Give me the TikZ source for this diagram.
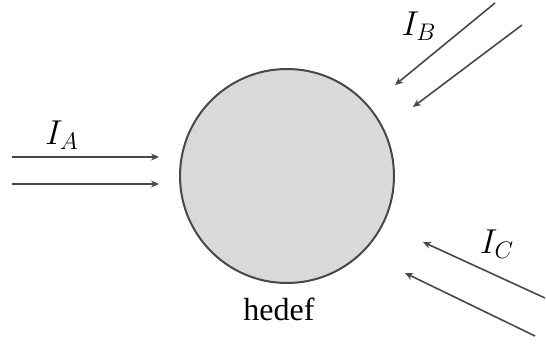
\documentclass[tikz,border=0pt]{standalone}
\usepackage{fontspec}
\setmainfont{Liberation Serif}
\usepackage{amsmath}
\usepackage{tikz}
\usetikzlibrary{arrows.meta}
\definecolor{beamgray}{HTML}{484848}
\definecolor{targetfill}{HTML}{D9D9D9}

\begin{document}
\begin{tikzpicture}[x=0.5pt,y=0.5pt,
  beam/.style={draw=beamgray,line width=0.8pt,-{Stealth[length=4pt,width=3.5pt]}},
  beamlabel/.style={font=\fontsize{17}{20}\selectfont}]
  \useasboundingbox (0,0) rectangle (546,343);
  \node[circle,draw=beamgray,line width=1pt,fill=targetfill,inner sep=0pt,minimum size=107pt] (target) at (287,167) {};
  \node[font=\fontsize{16}{19}\selectfont] (targetlabel) at (279,34) {hedef};
  % beam A
  \coordinate (a1s) at (12,186);  \coordinate (a1e) at (159,186);
  \coordinate (a2s) at (12,159);  \coordinate (a2e) at (159,159);
  \draw[beam] (a1s) -- (a1e);
  \draw[beam] (a2s) -- (a2e);
  \node[beamlabel] (labelA) at (62,208) {$I_A$};
  % beam B
  \coordinate (b1s) at (495,340); \coordinate (b1e) at (395,258);
  \coordinate (b2s) at (522,318); \coordinate (b2e) at (413,236);
  \draw[beam] (b1s) -- (b1e);
  \draw[beam] (b2s) -- (b2e);
  \node[beamlabel] (labelB) at (419,317) {$I_B$};
  % beam C
  \coordinate (c1s) at (545,45);  \coordinate (c1e) at (423,101);
  \coordinate (c2s) at (535,7);   \coordinate (c2e) at (405,70);
  \draw[beam] (c1s) -- (c1e);
  \draw[beam] (c2s) -- (c2e);
  \node[beamlabel] (labelC) at (497,99) {$I_C$};
\end{tikzpicture}
\end{document}
